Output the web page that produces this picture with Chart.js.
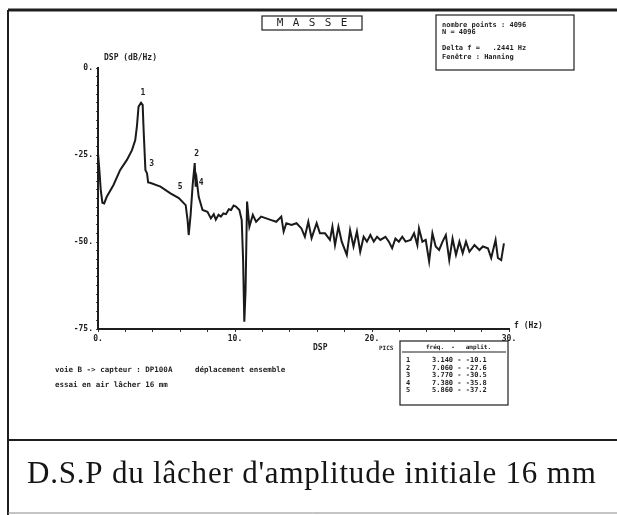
<!DOCTYPE html>
<html>
<head>
<title>DSP masse</title>
<script src="https://cdn.jsdelivr.net/npm/chart.js@4.4.1/dist/chart.umd.min.js"></script>
<style>
  body { margin: 0; background: #fff; }
</style>
</head>
<body>
<canvas id="chartcanvas" width="617" height="515"></canvas>
<script>
// frequence (Hz) / DSP (dB/Hz)
const freq = [0.00, 0.10, 0.20, 0.32, 0.45, 0.64, 1.13, 1.62, 2.11, 2.48, 2.72, 2.84, 2.96, 3.14, 3.26, 3.33, 3.46, 3.58, 3.66, 3.80,
  4.56, 5.29, 5.90, 6.40, 6.54, 6.62, 6.76, 6.91, 7.06, 7.13, 7.20, 7.35, 7.63, 7.99, 8.24, 8.45, 8.60, 8.80, 8.97, 9.15, 9.34, 9.55, 9.71, 9.90, 10.07, 10.32, 10.49,
  10.59, 10.68, 10.77, 10.88, 11.05, 11.30, 11.54, 11.91, 12.28, 12.65, 13.01, 13.38, 13.55, 13.75, 14.12, 14.49, 14.85,
  15.10, 15.35, 15.59, 15.96, 16.20, 16.57, 16.93, 17.11, 17.30, 17.55, 17.79, 18.16, 18.40, 18.65, 18.90, 19.14, 19.39, 19.63, 19.88,
  20.13, 20.37, 20.61, 20.98, 21.23, 21.47, 21.71, 21.96, 22.21, 22.45, 22.82, 23.07, 23.31, 23.43, 23.68, 23.92, 24.17, 24.41, 24.65,
  24.90, 25.15, 25.39, 25.64, 25.88, 26.13, 26.38, 26.62, 26.86, 27.11, 27.48, 27.84, 28.09, 28.46, 28.70, 29.02, 29.19, 29.43, 29.63];
const dsp = [-24.5, -29.3, -35.0, -38.7, -38.9, -37.0, -33.6, -29.3, -26.4, -23.6, -20.7, -16.8, -11.1, -10.0, -10.6, -17.8, -29.3, -30.3, -32.9, -33.0,
  -34.1, -36.0, -37.4, -39.4, -43.7, -48.0, -42.2, -33.6, -27.3, -34.1, -32.0, -37.0, -40.8, -41.3, -43.2, -42.0, -43.6, -42.2, -42.7, -41.8, -42.0, -40.6, -40.8, -39.5, -39.8, -40.8, -43.7,
  -55.0, -72.9, -64.0, -38.4, -45.6, -42.2, -44.2, -42.7, -43.2, -43.7, -44.2, -42.7, -47.0, -44.6, -45.1, -44.6, -46.1,
  -48.5, -44.2, -48.9, -44.6, -47.5, -47.5, -49.4, -45.6, -50.9, -45.6, -49.9, -53.7, -46.6, -51.3, -47.0, -52.8, -48.5, -49.9, -48.0,
  -49.9, -48.5, -49.4, -48.5, -49.9, -51.8, -49.0, -49.9, -48.5, -49.9, -49.4, -47.5, -50.9, -46.1, -49.9, -49.4, -55.6, -47.5, -51.3,
  -52.3, -49.9, -48.0, -55.2, -49.0, -53.7, -49.9, -53.2, -49.9, -52.8, -50.9, -52.3, -51.3, -51.8, -54.6, -49.4, -54.6, -55.2, -50.4];

// pics reperes
const peakNum = ['1', '2', '3', '4', '5'];
const peakFreq = [3.14, 7.06, 3.77, 7.38, 5.86];
const peakAmp = [-10.1, -27.6, -30.5, -35.8, -37.2];

const xTicks = [0, 10, 20, 30];
const yTicks = [0, -25, -50, -75];

const infoLines = ['nombre points : 4096', 'N = 4096', '', 'Delta f =   .2441 Hz', 'Fen\u00eatre : Hanning'];
const noteLines = ['voie B -> capteur : DP100A     d\u00e9placement ensemble', 'essai en air l\u00e2cher 16 mm'];
const caption = "D.S.P du l\u00e2cher d'amplitude initiale 16 mm";

const MONO = '"DejaVu Sans Mono", monospace';

const decor = {
    id: 'decor',
    afterDraw(chart) {
        const c = chart.ctx;
        const xs = chart.scales.x, ys = chart.scales.y;
        c.save();
        c.fillStyle = '#1e1e1e';
        c.strokeStyle = '#1e1e1e';

        // cadre de la figure scannee
        c.lineWidth = 3;
        c.beginPath(); c.moveTo(8, 10); c.lineTo(617, 10); c.stroke();
        c.lineWidth = 2;
        c.beginPath(); c.moveTo(8, 10); c.lineTo(8, 515); c.stroke();
        c.beginPath(); c.moveTo(8, 440); c.lineTo(617, 440); c.stroke();
        c.lineWidth = 1;
        c.strokeStyle = '#888';
        c.beginPath(); c.moveTo(8, 513); c.lineTo(617, 513); c.stroke();
        c.strokeStyle = '#1e1e1e';

        // titre MASSE
        c.lineWidth = 1.2;
        c.strokeRect(262, 16, 100, 14);
        c.font = '11px ' + MONO;
        c.textAlign = 'center';
        c.textBaseline = 'middle';
        'MASSE'.split('').forEach((ch, i) => c.fillText(ch, 280 + i * 16, 23.5));

        // cartouche
        c.strokeRect(436, 15, 138, 55);
        c.font = 'bold 7px ' + MONO;
        c.textAlign = 'left';
        c.textBaseline = 'alphabetic';
        const infoY = [27, 34, 0, 50, 59];
        infoLines.forEach((t, i) => { if (t) c.fillText(t, 442, infoY[i]); });

        // titres d'axes
        c.font = 'bold 8px ' + MONO;
        c.fillText('DSP (dB/Hz)', 104, 60);
        c.fillText('f (Hz)', 514, 328);
        c.fillText('DSP', 313, 350);

        // numeros des pics
        c.textAlign = 'center';
        peakNum.forEach((n, i) => {
            c.fillText(n, xs.getPixelForValue(peakFreq[i]) + 2, ys.getPixelForValue(peakAmp[i]) - 8);
        });

        // tableau des pics
        c.lineWidth = 1.2;
        c.strokeRect(400, 341, 108, 64);
        c.beginPath(); c.moveTo(402, 352); c.lineTo(506, 352); c.stroke();
        c.textAlign = 'left';
        c.font = 'bold 6px ' + MONO;
        c.fillText('PICS', 379, 350);
        c.fillText('fr\u00e9q.  -   amplit.', 426, 349);
        c.font = 'bold 7px ' + MONO;
        peakNum.forEach((n, i) => {
            const y = 362 + i * 7.6;
            c.fillText(n, 406, y);
            c.fillText(peakFreq[i].toFixed(3) + ' - ' + peakAmp[i].toFixed(1), 432, y);
        });

        // notes
        c.font = 'bold 7.5px ' + MONO;
        noteLines.forEach((t, i) => c.fillText(t, 55, 372 + i * 15));

        // legende
        c.fillStyle = '#151515';
        c.font = '31px "Liberation Serif", serif';
        c.letterSpacing = '0.8px';
        c.fillText(caption, 27, 483);
        c.restore();
    }
};

const ctx = document.getElementById('chartcanvas');
const chart = new Chart(ctx, {
    type: 'line',
    data: {
        datasets: [{
            data: freq.map((f, i) => ({ x: f, y: dsp[i] })),
            borderColor: '#1a1a1a',
            borderWidth: 2,
            pointRadius: 0,
            tension: 0
        }]
    },
    options: {
        responsive: false,
        animation: false,
        layout: { padding: { left: 64, right: 108, top: 68, bottom: 166 } },
        plugins: { legend: { display: false }, tooltip: { enabled: false } },
        scales: {
            x: {
                type: 'linear',
                min: 0, max: 30,
                afterFit: s => { s.height = 20; },
                ticks: {
                    stepSize: 2, autoSkip: false, maxRotation: 0, padding: 2,
                    color: '#222', font: { family: MONO, size: 8, weight: 'bold' },
                    callback: v => xTicks.includes(v) ? v + '.' : ''
                },
                grid: { drawOnChartArea: false, tickLength: 3, color: '#333' },
                border: { color: '#1e1e1e', width: 2 }
            },
            y: {
                min: -75, max: 0,
                afterFit: s => { s.width = 34; },
                ticks: {
                    stepSize: 2.5, autoSkip: false, padding: 3,
                    color: '#222', font: { family: MONO, size: 8, weight: 'bold' },
                    callback: v => yTicks.includes(v) ? v + '.' : ''
                },
                grid: { drawOnChartArea: false, tickLength: 2, color: '#444' },
                border: { color: '#1e1e1e', width: 2 }
            }
        }
    },
    plugins: [decor]
});
</script>
</body>
</html>
